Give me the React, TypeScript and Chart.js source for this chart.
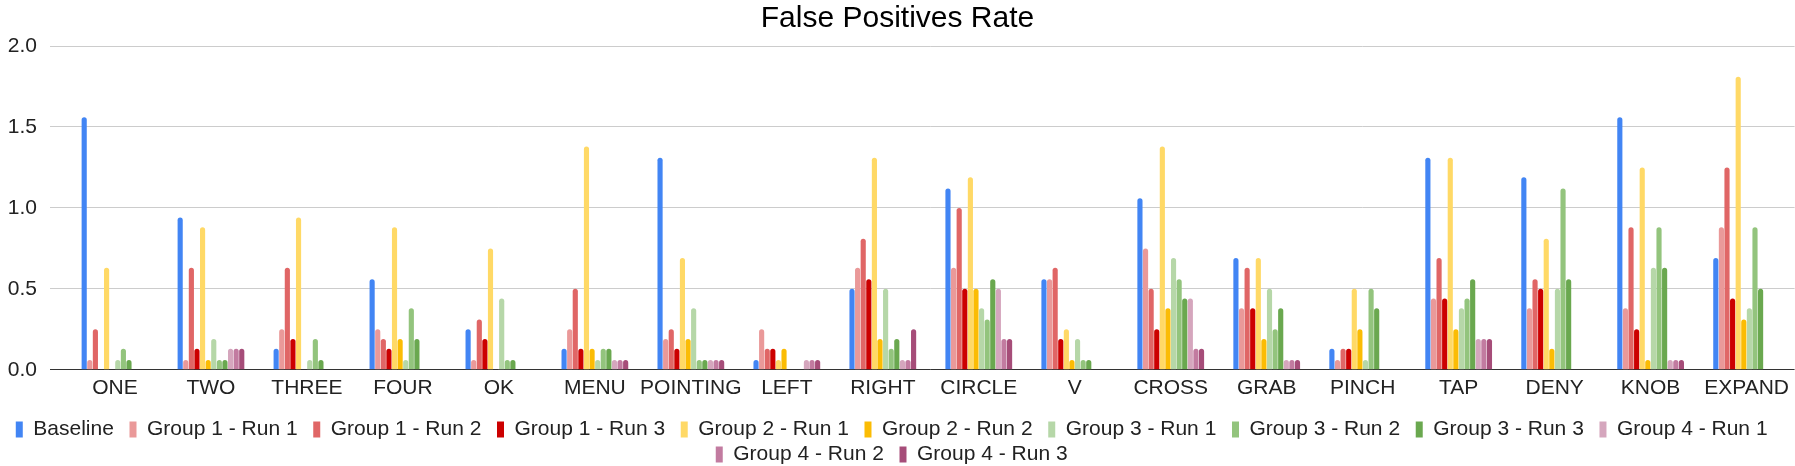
import { useEffect, useRef } from "react";
import Chart from "chart.js/auto";

const categories = [
  "ONE", "TWO", "THREE", "FOUR", "OK", "MENU", "POINTING", "LEFT", "RIGHT",
  "CIRCLE", "V", "CROSS", "GRAB", "PINCH", "TAP", "DENY", "KNOB", "EXPAND",
];

const seriesNames = [
  "Baseline",
  "Group 1 - Run 1", "Group 1 - Run 2", "Group 1 - Run 3",
  "Group 2 - Run 1", "Group 2 - Run 2",
  "Group 3 - Run 1", "Group 3 - Run 2", "Group 3 - Run 3",
  "Group 4 - Run 1", "Group 4 - Run 2", "Group 4 - Run 3",
];

const seriesColors = [
  "#4285f4",
  "#ea9999", "#e06666", "#cc0000",
  "#ffd966", "#fbbc04",
  "#b6d7a8", "#93c47d", "#6aa84f",
  "#d5a6bd", "#c27ba0", "#a64d79",
];

const baseline = [1.56, 0.94, 0.13, 0.56, 0.25, 0.13, 1.31, 0.06, 0.5, 1.12, 0.56, 1.06, 0.69, 0.13, 1.31, 1.19, 1.56, 0.69];
const group1Run1 = [0.06, 0.06, 0.25, 0.25, 0.06, 0.25, 0.19, 0.25, 0.63, 0.63, 0.56, 0.75, 0.38, 0.06, 0.44, 0.38, 0.38, 0.88];
const group1Run2 = [0.25, 0.63, 0.63, 0.19, 0.31, 0.5, 0.25, 0.13, 0.81, 1.0, 0.63, 0.5, 0.63, 0.13, 0.69, 0.56, 0.88, 1.25];
const group1Run3 = [0, 0.13, 0.19, 0.13, 0.19, 0.13, 0.13, 0.13, 0.56, 0.5, 0.19, 0.25, 0.38, 0.13, 0.44, 0.5, 0.25, 0.44];
const group2Run1 = [0.63, 0.88, 0.94, 0.88, 0.75, 1.38, 0.69, 0.06, 1.31, 1.19, 0.25, 1.38, 0.69, 0.5, 1.31, 0.81, 1.25, 1.81];
const group2Run2 = [0, 0.06, 0, 0.19, 0, 0.13, 0.19, 0.13, 0.19, 0.5, 0.06, 0.38, 0.19, 0.25, 0.25, 0.13, 0.06, 0.31];
const group3Run1 = [0.06, 0.19, 0.06, 0.06, 0.44, 0.06, 0.38, 0, 0.5, 0.38, 0.19, 0.69, 0.5, 0.06, 0.38, 0.5, 0.63, 0.38];
const group3Run2 = [0.13, 0.06, 0.19, 0.38, 0.06, 0.13, 0.06, 0, 0.13, 0.31, 0.06, 0.56, 0.25, 0.5, 0.44, 1.12, 0.88, 0.88];
const group3Run3 = [0.06, 0.06, 0.06, 0.19, 0.06, 0.13, 0.06, 0, 0.19, 0.56, 0.06, 0.44, 0.38, 0.38, 0.56, 0.56, 0.63, 0.5];
const group4Run1 = [0, 0.13, 0, 0, 0, 0.06, 0.06, 0.06, 0.06, 0.5, 0, 0.44, 0.06, 0, 0.19, 0, 0.06, 0];
const group4Run2 = [0, 0.13, 0, 0, 0, 0.06, 0.06, 0.06, 0.06, 0.19, 0, 0.13, 0.06, 0, 0.19, 0, 0.06, 0];
const group4Run3 = [0, 0.13, 0, 0, 0, 0.06, 0.06, 0.06, 0.25, 0.19, 0, 0.13, 0.06, 0, 0.19, 0, 0.06, 0];

const yTicks = [0, 0.5, 1, 1.5, 2];

export default function App() {
  const canvasRef = useRef<HTMLCanvasElement | null>(null);
  const chartRef = useRef<Chart | null>(null);

  useEffect(() => {
    if (!canvasRef.current) return;
    if (chartRef.current) chartRef.current.destroy();

    Chart.defaults.font.family = "Arial, 'Liberation Sans', sans-serif";

    const seriesValues = [
      baseline, group1Run1, group1Run2, group1Run3, group2Run1, group2Run2,
      group3Run1, group3Run2, group3Run3, group4Run1, group4Run2, group4Run3,
    ];

    chartRef.current = new Chart(canvasRef.current, {
      type: "bar",
      data: {
        labels: categories,
        datasets: seriesNames.map((name, i) => ({
          label: name,
          data: seriesValues[i],
          backgroundColor: seriesColors[i],
          borderWidth: 0,
          borderRadius: 3,
          categoryPercentage: 0.7,
          barPercentage: 0.92,
        })),
      },
      options: {
        animation: false,
        responsive: true,
        maintainAspectRatio: false,
        layout: { padding: 0 },
        plugins: {
          title: {
            display: true,
            text: "False Positives Rate",
            color: "#000",
            font: { size: 30, weight: "normal" },
            padding: { top: 1, bottom: 9 },
          },
          legend: {
            position: "bottom",
            labels: {
              boxWidth: 7,
              boxHeight: 16,
              padding: 4,
              color: "#222",
              font: { size: 21 },
              // trailing spaces widen the gap between items without growing the row height
              generateLabels: (chart) =>
                Chart.defaults.plugins.legend.labels
                  .generateLabels(chart)
                  .map((item) => ({ ...item, text: item.text + "  " })),
            },
          },
          tooltip: { enabled: false },
        },
        scales: {
          x: {
            grid: { display: false, drawTicks: false, tickLength: 0 },
            border: { display: false },
            ticks: {
              color: "#222",
              font: { size: 21 },
              padding: 6,
              maxRotation: 0,
              autoSkip: false,
            },
            afterFit: (scale) => {
              scale.height += 8;
            },
          },
          y: {
            min: 0,
            max: 2,
            afterBuildTicks: (scale) => {
              scale.ticks = yTicks.map((v) => ({ value: v }));
            },
            afterFit: (scale) => {
              scale.width = 67;
            },
            ticks: {
              color: "#222",
              font: { size: 21 },
              padding: 13,
              callback: (v) => Number(v).toFixed(1),
            },
            grid: {
              color: (ctx) => (ctx.tick && ctx.tick.value === 0 ? "#333" : "#cccccc"),
              tickLength: 17,
              drawTicks: true,
            },
            border: { display: false },
          },
        },
      },
    });

    return () => {
      if (chartRef.current) {
        chartRef.current.destroy();
        chartRef.current = null;
      }
    };
  }, []);

  return (
    <div
      style={{
        position: "fixed",
        left: 0,
        top: 0,
        width: 1795,
        height: 466,
        overflow: "hidden",
        background: "#fff",
      }}
    >
      <div style={{ position: "relative", width: 1795, height: 475 }}>
        <canvas ref={canvasRef}></canvas>
      </div>
    </div>
  );
}
